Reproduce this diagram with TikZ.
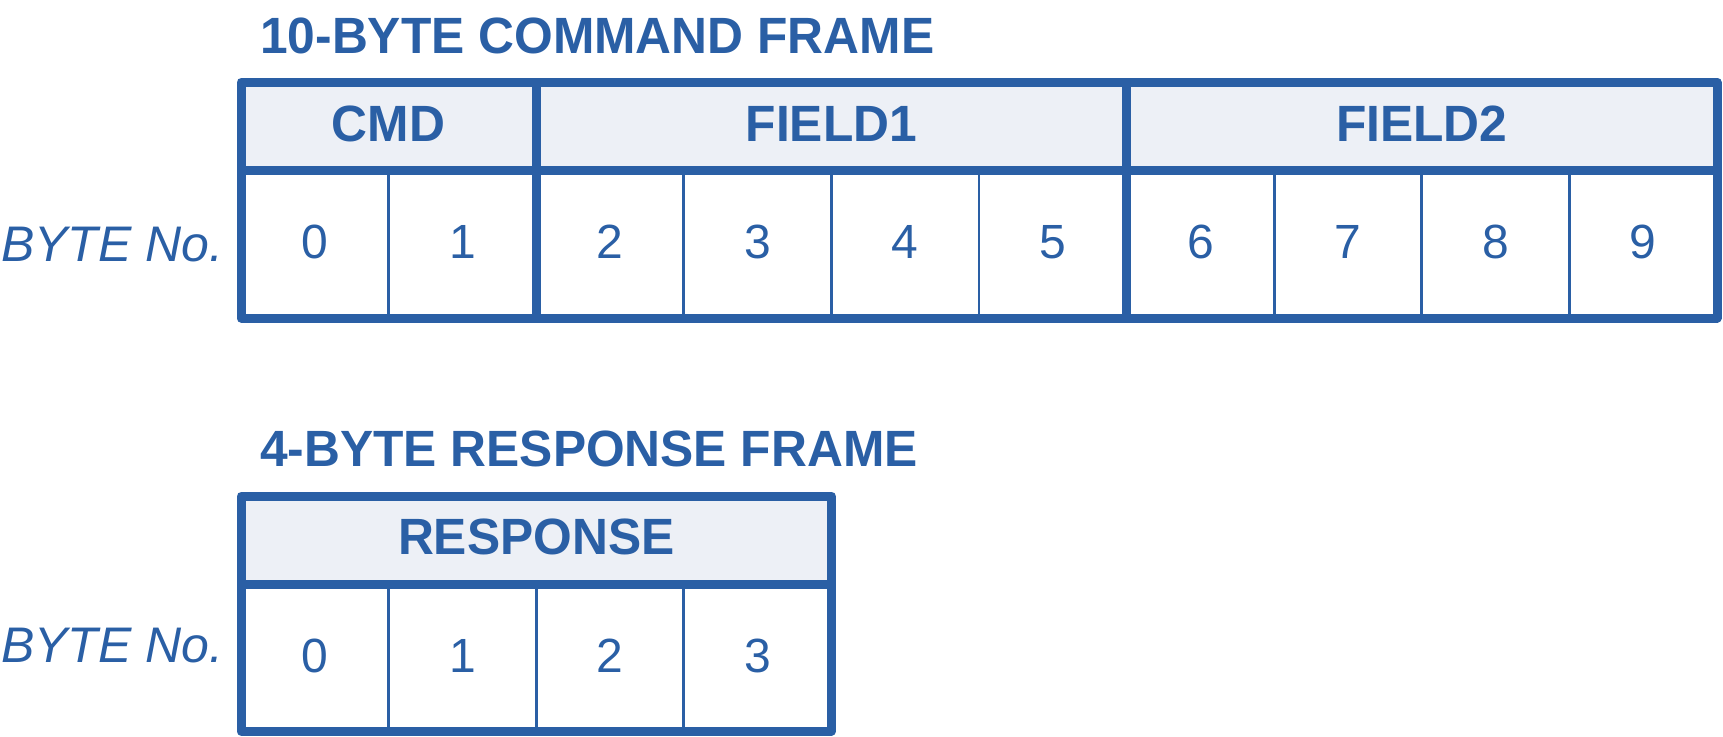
\documentclass[tikz,border=0pt]{standalone}
\usepackage{fontspec}
\setmainfont{Liberation Sans}
\newfontfamily\headfont{Liberation Sans}[FakeStretch=0.975]

\definecolor{frameblue}{RGB}{42,95,165}
\definecolor{headfill}{RGB}{237,240,246}

\tikzset{
  outline/.style={draw=frameblue, line width=9pt, line join=round},
  thickrule/.style={draw=frameblue, line width=9pt},
  thinrule/.style={draw=frameblue, line width=2.7pt},
  headband/.style={fill=headfill, draw=none},
  frametitle/.style={text=frameblue, inner sep=0pt, anchor=base west,
    font=\headfont\bfseries\fontsize{51}{60}\selectfont},
  fieldname/.style={text=frameblue, inner sep=0pt, anchor=base,
    font=\headfont\bfseries\fontsize{51}{60}\selectfont},
  bytenum/.style={text=frameblue, inner sep=0pt, anchor=base,
    font=\fontsize{48}{56}\selectfont},
  rowname/.style={text=frameblue, inner sep=0pt, anchor=base west,
    font=\itshape\fontsize{50}{60}\selectfont},
}

\begin{document}
\begin{tikzpicture}[x=1pt, y=-1pt]
  \useasboundingbox (0,0) rectangle (1723,736);
  \def\bx{241}      % left edge of both frames
  \def\bw{147.6}    % width of one byte cell

  % ---------------- 10-byte command frame ----------------
  \node[frametitle] (cmdtitle) at (260,53) {10-BYTE COMMAND FRAME};
  \path[headband] (\bx,82) rectangle ({\bx+10*\bw},170.5);
  \foreach \i in {1,3,4,5,7,8,9}
    \draw[thinrule] ({\bx+\i*\bw},170.5) -- ({\bx+\i*\bw},318);
  \foreach \i in {2,6}
    \draw[thickrule] ({\bx+\i*\bw},82) -- ({\bx+\i*\bw},318);
  \draw[thickrule] (\bx,170.5) -- ({\bx+10*\bw},170.5);
  \draw[outline] (\bx,82) rectangle ({\bx+10*\bw},318);

  \node[fieldname] (cmd)    at ({\bx+1*\bw},141.5) {CMD};
  \node[fieldname] (field1) at ({\bx+4*\bw},141.5) {FIELD1};
  \node[fieldname] (field2) at ({\bx+8*\bw},141.5) {FIELD2};
  \foreach \i in {0,...,9}
    \node[bytenum] (cb\i) at ({\bx+(\i+0.5)*\bw},258.7) {\i};
  \node[rowname] (cmdrow) at (1,261.7) {BYTE No.};

  % ---------------- 4-byte response frame ----------------
  \node[frametitle] (resptitle) at (260,466) {4-BYTE RESPONSE FRAME};
  \path[headband] (\bx,496) rectangle ({\bx+4*\bw},584);
  \foreach \i in {1,2,3}
    \draw[thinrule] ({\bx+\i*\bw},584) -- ({\bx+\i*\bw},731.2);
  \draw[thickrule] (\bx,584) -- ({\bx+4*\bw},584);
  \draw[outline] (\bx,496) rectangle ({\bx+4*\bw},731.2);

  \node[fieldname] (response) at ({\bx+2*\bw},554.3) {RESPONSE};
  \foreach \i in {0,...,3}
    \node[bytenum] (rb\i) at ({\bx+(\i+0.5)*\bw},672) {\i};
  \node[rowname] (resprow) at (1,662.7) {BYTE No.};
\end{tikzpicture}
\end{document}
